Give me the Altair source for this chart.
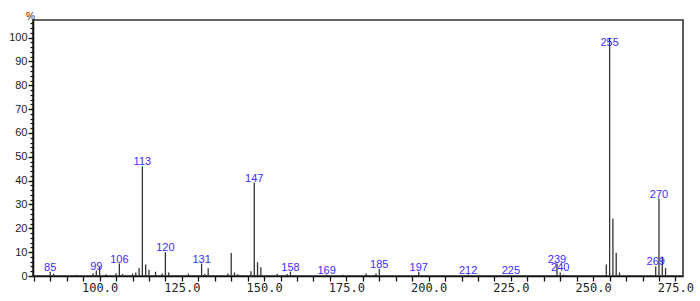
import altair as alt
import pandas as pd

mz = [85, 86, 93, 98, 99, 100, 102, 105, 106, 107, 110, 111, 112, 113, 114, 115,
      117, 119, 120, 121, 127, 131, 132, 133, 139, 140, 141, 142, 146, 147, 148,
      149, 154, 157, 158, 169, 174, 181, 184, 185, 197, 198, 212, 225, 239, 240,
      241, 254, 255, 256, 257, 258, 269, 270, 271, 272]
intensity = [1.8, 0.9, 0.5, 1.2, 2.3, 3.8, 0.7, 1.2, 5.2, 0.8, 1.0, 1.5, 3.4, 46.0,
             4.8, 2.6, 1.8, 1.0, 10.0, 1.5, 1.0, 5.2, 0.8, 3.3, 1.0, 9.6, 1.5, 0.7,
             2.0, 39.2, 5.8, 3.7, 0.8, 0.8, 1.8, 0.6, 0.5, 1.0, 1.0, 3.0, 1.8, 0.4,
             0.6, 0.4, 5.2, 1.5, 0.6, 4.8, 100.0, 24.0, 9.8, 1.5, 4.0, 32.5, 8.2, 3.4]
labelled = [85, 99, 106, 113, 120, 131, 147, 158, 169, 185, 197, 212, 225, 239,
            240, 255, 269, 270]

x_ticks = list(range(80, 280, 5))
y_major = list(range(0, 101, 10))
y_minor = list(range(0, 108, 2))

df = pd.DataFrame({"mz": mz, "intensity": intensity})
lab = df[df["mz"].isin(labelled)].copy()
lab["label"] = lab["mz"].astype(str)

xscale = alt.Scale(domain=[79.76, 277.3], nice=False, zero=False)
yscale = alt.Scale(domain=[0, 107.4], nice=False, zero=False)

x_axis = alt.Axis(values=x_ticks, title=None, tickSize=5, tickColor="#111",
                  tickWidth=1.3, domainColor="#111", domainWidth=1.6,
                  labelExpr="datum.value % 25 == 0 ? format(datum.value, '.1f') : ''",
                  labelFont="DejaVu Sans Mono", labelFontSize=12,
                  labelColor="#222", labelPadding=1, labelFlush=False,
                  labelOverlap=False, grid=False)

peaks = alt.Chart(df).mark_rule(color="#333333", strokeWidth=1.3).encode(
    x=alt.X("mz:Q", scale=xscale, axis=x_axis),
    y=alt.Y("intensity:Q", scale=yscale,
            axis=alt.Axis(orient="left", values=y_major, tickSize=5, tickColor="#111",
                          tickWidth=1.3, domainColor="#111", domainWidth=1.6,
                          labelFont="Liberation Sans", labelFontSize=11,
                          labelColor="#222", labelPadding=1, grid=False,
                          title="%", titleAngle=0, titleX=-3, titleY=-1,
                          titleAlign="center", titleBaseline="alphabetic",
                          titleFont="Liberation Sans", titleFontSize=10,
                          titleFontWeight="normal", titleColor="#222")),
    y2=alt.datum(0),
)

texts = alt.Chart(lab).transform_calculate(
    ly="min(datum.intensity, 96.2)"
).mark_text(color="#3a2cff", font="Liberation Sans", fontSize=11,
            baseline="alphabetic", align="center", dy=-1).encode(
    x=alt.X("mz:Q", scale=xscale, axis=x_axis),
    y=alt.Y("ly:Q", scale=yscale,
            axis=alt.Axis(orient="left", values=y_minor, tickSize=3, tickColor="#111",
                          tickWidth=1.3, labels=False, domain=False, grid=False,
                          title=None)),
    text="label:N",
)

chart = alt.layer(peaks, texts).resolve_axis(y="independent").properties(
    width=650, height=256,
    autosize=alt.AutoSizeParams(type="none"),
    padding={"left": 33, "top": 20, "right": 17, "bottom": 25},
    background="white",
).configure_view(stroke="#333333", strokeWidth=1.6)

chart.save("out.html", embed_options={"renderer": "svg", "actions": False})
